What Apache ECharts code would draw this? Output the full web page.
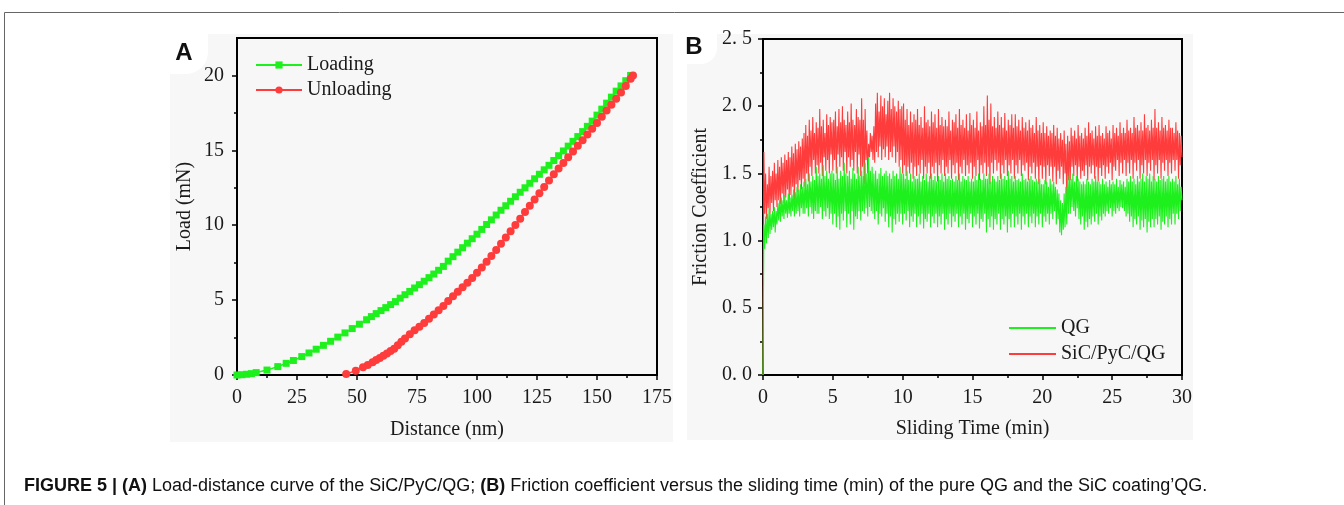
<!DOCTYPE html>
<html>
<head>
<meta charset="utf-8">
<script src="https://cdn.jsdelivr.net/npm/echarts@6/dist/echarts.min.js"></script>
<style>
html,body{margin:0;padding:0;background:#fff;}
#chart{width:1344px;height:505px;}
</style>
</head>
<body>
<div id="chart"></div>
<script>
// ---------- Panel A: load-distance ----------
const loadingX = [0,2,4,6,8,12.5,17,20.5,23.5,27,30,33,36,39,42,45,48,51,54,56,58,60,62,64,66,68,70,72,74,76,78,80,82,84,86,88,90,92,94,96,98,100,102,104,106,108,110,112,114,116,118,120,122,124,126,128,130,132,134,136,138,140,142,144,146,148,150,152,154,156,158,160,162,164];
const loadingY = [0,0.02,0.05,0.09,0.16,0.33,0.56,0.78,0.97,1.23,1.47,1.72,1.98,2.25,2.53,2.81,3.1,3.39,3.69,3.9,4.1,4.3,4.5,4.7,4.9,5.13,5.36,5.58,5.81,6.03,6.26,6.5,6.74,6.99,7.25,7.6,7.9,8.2,8.5,8.8,9.1,9.4,9.72,10.05,10.36,10.68,11.0,11.3,11.6,11.9,12.2,12.5,12.8,13.1,13.4,13.7,14.0,14.32,14.64,14.96,15.28,15.6,15.92,16.25,16.6,16.95,17.35,17.75,18.15,18.55,18.95,19.3,19.65,20];
const unloadingX = [45.5,49.5,52.5,54.5,56.5,58,59.5,61,62.5,64,65.5,67,68.5,70,72,74,76,78,80,82,84,86,88,90,92,94,96,98,100,102,104,106,108,110,112,114,116,118,120,122,124,126,128,130,132,134,136,138,140,142,144,146,148,150,152,154,156,158,160,162,164,165];
const unloadingY = [0.07,0.29,0.51,0.67,0.85,1.0,1.14,1.28,1.43,1.6,1.76,1.98,2.22,2.44,2.72,2.98,3.22,3.47,3.75,4.04,4.32,4.6,4.94,5.26,5.56,5.86,6.16,6.48,6.82,7.18,7.56,7.94,8.34,8.76,9.18,9.6,10.02,10.44,10.88,11.3,11.72,12.14,12.56,12.98,13.4,13.78,14.16,14.54,14.92,15.3,15.68,16.06,16.44,16.82,17.24,17.66,18.05,18.44,18.86,19.3,19.78,20];
const aXTicks = [0,25,50,75,100,125,150,175];
const aYTicks = [0,5,10,15,20];
const aYMinor = [2.5,7.5,12.5,17.5];

// ---------- Panel B: friction coefficient (read every 1/16 min) ----------
const timeStep = 0.0625;
const frictionSiC = [
0,1.66,1.2,1.5,1.16,1.42,1.24,1.55,1.2,1.48,1.28,1.52,1.22,1.58,1.3,1.5,
1.25,1.6,1.3,1.55,1.27,1.62,1.35,1.58,1.28,1.64,1.32,1.6,1.38,1.66,1.3,1.62,
1.34,1.7,1.4,1.65,1.3,1.72,1.42,1.68,1.36,1.74,1.45,1.7,1.38,1.76,1.46,1.8,
1.4,1.86,1.5,1.78,1.44,1.9,1.55,1.82,1.48,1.92,1.6,1.8,1.5,1.88,1.56,1.84,
1.5,1.98,1.58,1.85,1.48,1.9,1.62,1.8,1.52,1.94,1.6,1.86,1.5,1.92,1.64,1.88,
1.52,1.9,1.6,1.96,1.5,1.85,1.64,1.98,1.55,1.88,1.62,2.0,1.52,1.9,1.66,1.86,
1.5,1.96,1.62,1.88,1.55,2.02,1.6,1.9,1.52,1.86,1.66,1.98,1.5,1.92,1.64,1.9,
1.48,2.06,1.55,1.9,1.42,1.98,1.6,1.82,1.5,1.72,1.62,1.8,1.66,1.78,1.6,1.85,
1.58,2.02,1.66,2.1,1.62,1.96,1.7,2.08,1.6,2.0,1.68,2.06,1.62,1.94,1.7,2.04,
1.6,2.1,1.66,1.98,1.62,2.06,1.7,2.0,1.58,1.96,1.66,2.04,1.55,1.98,1.6,2.0,
1.5,2.02,1.56,1.9,1.48,1.98,1.55,1.86,1.5,1.96,1.58,1.88,1.46,1.94,1.55,1.9,
1.48,1.98,1.56,1.86,1.5,1.92,1.6,1.84,1.46,2.0,1.55,1.88,1.5,1.9,1.58,1.85,
1.46,1.96,1.55,1.88,1.5,1.94,1.58,1.84,1.44,1.98,1.56,1.86,1.5,1.92,1.6,1.85,
1.48,1.9,1.55,1.85,1.5,1.96,1.6,1.82,1.46,1.9,1.56,1.88,1.5,1.94,1.58,1.84,
1.45,1.98,1.55,1.86,1.5,1.9,1.6,1.84,1.48,1.94,1.56,1.82,1.5,1.95,1.58,1.86,
1.46,1.9,1.55,1.84,1.48,1.96,1.6,1.82,1.45,1.88,1.56,1.85,1.5,2.0,1.58,1.86,
1.48,2.08,1.55,1.9,1.42,2.02,1.58,1.85,1.5,1.92,1.6,1.84,1.52,1.96,1.58,1.86,
1.46,1.92,1.56,1.84,1.5,1.95,1.6,1.82,1.48,1.9,1.56,1.86,1.5,1.94,1.6,1.84,
1.46,1.94,1.56,1.85,1.5,1.9,1.6,1.82,1.48,1.92,1.56,1.84,1.52,1.88,1.58,1.82,
1.45,1.9,1.55,1.84,1.5,1.86,1.58,1.8,1.46,1.92,1.55,1.82,1.42,1.86,1.56,1.8,
1.46,1.88,1.55,1.8,1.42,1.85,1.56,1.78,1.48,1.82,1.55,1.8,1.44,1.86,1.55,1.78,
1.42,1.84,1.52,1.76,1.46,1.8,1.55,1.75,1.42,1.82,1.5,1.72,1.3,1.78,1.45,1.74,
1.45,1.84,1.55,1.78,1.48,1.82,1.56,1.76,1.44,1.86,1.55,1.78,1.46,1.8,1.52,1.76,
1.48,1.84,1.56,1.78,1.45,1.88,1.55,1.8,1.5,1.82,1.56,1.76,1.46,1.85,1.55,1.78,
1.44,1.86,1.54,1.78,1.48,1.8,1.56,1.76,1.46,1.85,1.55,1.8,1.5,1.82,1.58,1.76,
1.45,1.86,1.55,1.8,1.52,1.84,1.6,1.78,1.48,1.88,1.58,1.8,1.5,1.84,1.6,1.8,
1.48,1.9,1.58,1.82,1.5,1.84,1.6,1.8,1.46,1.92,1.58,1.84,1.52,1.86,1.6,1.82,
1.46,1.88,1.56,1.82,1.5,1.94,1.6,1.84,1.48,1.86,1.58,1.82,1.52,1.9,1.6,1.84,
1.45,1.98,1.56,1.84,1.5,1.88,1.6,1.82,1.46,1.92,1.58,1.84,1.52,1.86,1.6,1.82,
1.48,1.9,1.58,1.84,1.5,1.84,1.6,1.8,1.52,1.88,1.6,1.82,1.46,1.8,1.56,1.78,
1.62];
const frictionQG = [
0,1.12,0.94,1.18,0.98,1.2,1.02,1.24,1.05,1.2,1.08,1.22,1.1,1.25,1.06,1.22,
1.12,1.28,1.15,1.3,1.14,1.32,1.18,1.3,1.16,1.34,1.2,1.3,1.17,1.35,1.2,1.32,
1.18,1.34,1.22,1.38,1.18,1.36,1.2,1.4,1.22,1.38,1.18,1.42,1.24,1.4,1.2,1.44,
1.2,1.46,1.24,1.42,1.18,1.5,1.25,1.44,1.2,1.48,1.16,1.45,1.22,1.55,1.2,1.48,
1.2,1.5,1.25,1.46,1.16,1.56,1.22,1.48,1.18,1.52,1.24,1.46,1.16,1.5,1.2,1.52,
1.12,1.5,1.2,1.45,1.1,1.55,1.18,1.46,1.08,1.52,1.2,1.48,1.15,1.58,1.22,1.5,
1.1,1.48,1.2,1.52,1.12,1.46,1.22,1.54,1.08,1.5,1.18,1.46,1.16,1.55,1.22,1.48,
1.15,1.52,1.22,1.48,1.2,1.58,1.24,1.5,1.18,1.62,1.25,1.52,1.22,1.55,1.2,1.5,
1.16,1.52,1.22,1.46,1.12,1.5,1.2,1.54,1.18,1.48,1.24,1.5,1.14,1.52,1.2,1.48,
1.1,1.5,1.18,1.46,1.06,1.52,1.16,1.48,1.12,1.5,1.2,1.46,1.14,1.55,1.2,1.5,
1.12,1.5,1.2,1.46,1.15,1.52,1.22,1.45,1.1,1.5,1.18,1.44,1.14,1.48,1.2,1.46,
1.1,1.46,1.18,1.5,1.12,1.44,1.2,1.48,1.09,1.45,1.16,1.5,1.14,1.44,1.2,1.48,
1.1,1.5,1.18,1.45,1.13,1.48,1.2,1.44,1.1,1.48,1.18,1.45,1.12,1.5,1.2,1.44,
1.08,1.5,1.16,1.46,1.12,1.48,1.2,1.45,1.1,1.46,1.18,1.44,1.14,1.48,1.2,1.45,
1.1,1.5,1.18,1.44,1.12,1.48,1.2,1.46,1.08,1.45,1.16,1.48,1.13,1.44,1.2,1.46,
1.1,1.44,1.18,1.48,1.12,1.45,1.2,1.5,1.09,1.46,1.16,1.45,1.14,1.5,1.2,1.46,
1.06,1.46,1.16,1.5,1.1,1.44,1.18,1.48,1.08,1.46,1.16,1.44,1.12,1.48,1.2,1.45,
1.08,1.5,1.16,1.46,1.12,1.48,1.18,1.45,1.06,1.52,1.16,1.46,1.1,1.48,1.2,1.44,
1.1,1.48,1.18,1.45,1.12,1.46,1.2,1.44,1.08,1.5,1.18,1.45,1.12,1.46,1.2,1.44,
1.1,1.46,1.18,1.48,1.13,1.45,1.2,1.44,1.1,1.46,1.18,1.44,1.12,1.46,1.2,1.42,
1.1,1.42,1.18,1.45,1.14,1.44,1.2,1.4,1.12,1.46,1.2,1.42,1.16,1.44,1.22,1.4,
1.12,1.38,1.16,1.35,1.06,1.3,1.04,1.28,1.08,1.35,1.1,1.4,1.12,1.48,1.2,1.5,
1.2,1.46,1.25,1.5,1.22,1.44,1.18,1.48,1.24,1.46,1.16,1.44,1.12,1.42,1.18,1.44,
1.08,1.42,1.14,1.46,1.1,1.44,1.16,1.42,1.12,1.46,1.18,1.44,1.14,1.48,1.2,1.44,
1.12,1.44,1.18,1.42,1.15,1.46,1.2,1.42,1.18,1.44,1.22,1.4,1.2,1.45,1.24,1.42,
1.18,1.44,1.22,1.42,1.2,1.46,1.24,1.4,1.22,1.45,1.25,1.42,1.24,1.44,1.22,1.4,
1.18,1.46,1.2,1.44,1.14,1.48,1.18,1.44,1.1,1.46,1.16,1.42,1.12,1.48,1.18,1.44,
1.08,1.46,1.15,1.5,1.1,1.44,1.16,1.48,1.06,1.46,1.14,1.5,1.1,1.44,1.16,1.48,
1.1,1.46,1.16,1.44,1.12,1.48,1.18,1.45,1.08,1.46,1.14,1.48,1.12,1.44,1.18,1.46,
1.1,1.48,1.16,1.44,1.12,1.46,1.2,1.44,1.12,1.48,1.2,1.42,1.16,1.46,1.22,1.4,
1.3];
const bXTicks = [0,5,10,15,20,25,30];
const bYTicks = [0,0.5,1.0,1.5,2.0,2.5];

const serif = "'Liberation Serif','Times New Roman',serif";
const sans = "'Liberation Sans',Arial,Helvetica,sans-serif";
const GREEN = '#1df01d';
const RED = '#ff3c3c';

function pairs(xs, ys){ return xs.map((x,i)=>[x, ys[i]]); }
function timed(ys){ return ys.map((v,i)=>[i*timeStep, v]); }

const axisLineStyle = {color:'#000', width:2};
const labelStyle = {fontFamily: serif, fontSize: 20, color:'#1a1a1a'};
const nameStyle = {fontFamily: serif, fontSize: 20, color:'#1a1a1a'};

const chart = echarts.init(document.getElementById('chart'), null, {renderer:'canvas'});
chart.setOption({
  animation:false,
  backgroundColor:'#ffffff',
  graphic:[
    {type:'line', shape:{x1:4.5,y1:12.5,x2:1344,y2:12.5}, style:{stroke:'#666', lineWidth:1}},
    {type:'line', shape:{x1:4.5,y1:12.5,x2:4.5,y2:505}, style:{stroke:'#666', lineWidth:1}},
    {type:'rect', shape:{x:170,y:34,width:503,height:408}, style:{fill:'#f7f7f7'}, z:-10},
    {type:'rect', shape:{x:687,y:34,width:506,height:406}, style:{fill:'#f7f7f7'}, z:-10},
    {type:'rect', shape:{x:170,y:34,width:38,height:40,r:[0,0,22,0]}, style:{fill:'#ffffff'}, z:-9},
    {type:'rect', shape:{x:687,y:34,width:30,height:30,r:[0,0,16,0]}, style:{fill:'#ffffff'}, z:-9},
    {type:'text', x:184, y:53, style:{text:'A', font:"bold 24px "+sans, fill:'#111', align:'center', verticalAlign:'middle'}},
    {type:'text', x:694, y:47, style:{text:'B', font:"bold 24px "+sans, fill:'#111', align:'center', verticalAlign:'middle'}},
    {type:'text', x:24, y:486, style:{
      text:'{b|FIGURE 5 | (A)} Load-distance curve of the SiC/PyC/QG; {b|(B)} Friction coefficient versus the sliding time (min) of the pure QG and the SiC coating\u2019QG.',
      font:"18px "+sans, fill:'#111', verticalAlign:'middle',
      rich:{b:{fontWeight:'bold', fontSize:18, fontFamily:sans}}
    }}
  ],
  legend:[
    {data:['Loading','Unloading'], left:250, top:49, orient:'vertical', itemWidth:46, itemHeight:9, itemGap:3,
     textStyle:{fontFamily:serif, fontSize:20, lineHeight:22, color:'#1a1a1a'}},
    {data:[{name:'QG', icon:'rect'},{name:'SiC/PyC/QG', icon:'rect'}], left:1004, top:312, orient:'vertical',
     itemWidth:47, itemHeight:2, itemGap:4,
     textStyle:{fontFamily:serif, fontSize:20, lineHeight:22, color:'#1a1a1a'}}
  ],
  grid:[
    {left:237, top:38, width:420, height:337, show:true, borderColor:'#000', borderWidth:2, backgroundColor:'transparent'},
    {left:763, top:39, width:419, height:336, show:true, borderColor:'#000', borderWidth:2, backgroundColor:'transparent'}
  ],
  xAxis:[
    {type:'value', gridIndex:0, min:0, max:175, interval:25,
     axisLine:{lineStyle:axisLineStyle}, axisTick:{length:5, lineStyle:{color:'#000', width:1.5}},
     minorTick:{show:true, splitNumber:2, length:3, lineStyle:{color:'#000', width:1.5}},
     splitLine:{show:false}, axisLabel:Object.assign({margin:13, customValues:aXTicks}, labelStyle),
     name:'Distance (nm)', nameLocation:'middle', nameGap:45, nameTextStyle:nameStyle},
    {type:'value', gridIndex:1, min:0, max:30, interval:5,
     axisLine:{lineStyle:axisLineStyle}, axisTick:{length:5, lineStyle:{color:'#000', width:1.5}},
     minorTick:{show:true, splitNumber:2, length:3, lineStyle:{color:'#000', width:1.5}},
     splitLine:{show:false}, axisLabel:Object.assign({margin:13, customValues:bXTicks}, labelStyle),
     name:'Sliding Time (min)', nameLocation:'middle', nameGap:44, nameTextStyle:nameStyle}
  ],
  yAxis:[
    {type:'value', gridIndex:0, min:0, max:22.5,
     axisLine:{lineStyle:axisLineStyle}, axisTick:{length:5, customValues:aYTicks, lineStyle:{color:'#000', width:1.5}},
     splitLine:{show:false}, axisLabel:Object.assign({margin:13, customValues:aYTicks}, labelStyle),
     name:'Load (mN)', nameLocation:'middle', nameGap:42, nameTextStyle:nameStyle},
    {type:'value', gridIndex:0, min:0, max:22.5, position:'left',
     axisLine:{show:false}, axisTick:{length:3, customValues:aYMinor, lineStyle:{color:'#000', width:1.5}},
     splitLine:{show:false}, axisLabel:{show:false}},
    {type:'value', gridIndex:1, min:0, max:2.5, interval:0.5,
     axisLine:{lineStyle:axisLineStyle}, axisTick:{length:5, lineStyle:{color:'#000', width:1.5}},
     minorTick:{show:true, splitNumber:2, length:3, lineStyle:{color:'#000', width:1.5}},
     splitLine:{show:false},
     axisLabel:Object.assign({margin:11, customValues:bYTicks, formatter:(v)=>v.toFixed(1).replace('.', '. ')}, labelStyle),
     name:'Friction Coefficient', nameLocation:'middle', nameGap:52, nameTextStyle:nameStyle}
  ],
  series:[
    {name:'Loading', type:'line', xAxisIndex:0, yAxisIndex:0, data:pairs(loadingX, loadingY),
     symbol:'rect', symbolSize:7, showAllSymbol:true, lineStyle:{color:GREEN, width:1.5}, itemStyle:{color:GREEN}, z:3},
    {name:'Unloading', type:'line', xAxisIndex:0, yAxisIndex:0, data:pairs(unloadingX, unloadingY),
     symbol:'circle', symbolSize:8, showAllSymbol:true, lineStyle:{color:RED, width:1.5}, itemStyle:{color:RED}, z:4},
    {name:'SiC/PyC/QG', type:'line', xAxisIndex:1, yAxisIndex:2, data:timed(frictionSiC),
     symbol:'none', lineStyle:{color:RED, width:1.1}, itemStyle:{color:RED}, z:3},
    {name:'QG', type:'line', xAxisIndex:1, yAxisIndex:2, data:timed(frictionQG),
     symbol:'none', lineStyle:{color:GREEN, width:1.1}, itemStyle:{color:GREEN}, z:4}
  ]
});
</script>
</body>
</html>
